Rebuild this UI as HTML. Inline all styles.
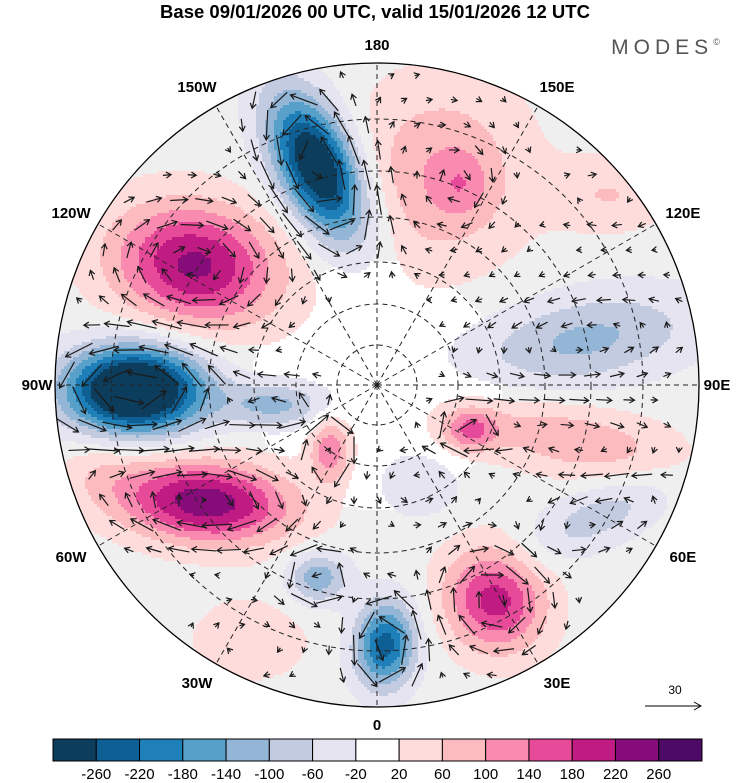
<!DOCTYPE html>
<html><head><meta charset="utf-8"><style>
body{margin:0;background:#fff;}
svg{display:block;font-family:"Liberation Sans",sans-serif;}
</style></head><body>
<svg id="chart" width="750" height="783" viewBox="0 0 750 783">
<text x="375" y="18" text-anchor="middle" font-size="18.5" font-weight="bold">Base 09/01/2026 00 UTC, valid 15/01/2026 12 UTC</text>
<text x="668" y="54" text-anchor="middle" font-size="21" fill="#555" letter-spacing="5">MODES<tspan font-size="9" dy="-9">©</tspan></text>
<defs><clipPath id="disk"><circle cx="377" cy="385" r="322"/></clipPath></defs>
<g id="field" clip-path="url(#disk)"></g>
<g id="grat" clip-path="url(#disk)"></g>
<g id="winds" clip-path="url(#disk)"></g>
<circle cx="377" cy="385" r="322" fill="none" stroke="#000" stroke-width="1.3"/>
<g id="lonlabels" font-size="15" font-weight="bold" text-anchor="middle"></g>
<g>
<text x="675" y="694" font-size="12" text-anchor="middle">30</text>
<line x1="645" y1="706" x2="700" y2="706" stroke="#000" stroke-width="1"/>
<path d="M694,702 L701,706 L694,710" fill="none" stroke="#000"/>
</g>
<g id="cbar"></g>
</svg>
<script>
// Anomaly centres (pixel map coords), spreads, rotation, peak values (gpm)
const blobX   = [318, 195, 135, 205, 385, 495, 318, 440, 585, 575, 470, 600, 330, 275, 610, 250, 420, 100, 462];
const blobY   = [168, 265, 390, 502, 645, 600, 578, 175, 340, 440, 430, 515, 450, 405, 195, 640, 485, 470, 185];
const blobSX  = [ 27,  58,  48,  60,  21,  34,  21,  60,  80,  82,  20,  58,  14,  36,  42,  42,  30,  30,  18];
const blobSY  = [ 54,  42,  30,  28,  30,  37,  18,  65,  32,  26,  15,  22,  22,  16,  26,  30,  25,  25,  22];
const blobRot = [-25,  10,   0,   5,   5, -30,   0,  10, -10,  12,   0, -25,   0,   0,   0,   0,   0,   0,   0];
const blobPeak= [-340, 230, -400, 250, -240, 200, -130, 100, -110, 90, 130, -80, 130, -110, 60, 50, -50, 40, 50];
const levels = [-260,-220,-180,-140,-100,-60,-20,20,60,100,140,180,220,260];
const levelColors = ["#0c3d5c","#0d5f94","#1f7fb8","#56a0c9","#93b5d6","#c3cbe0","#e6e4f0","#ffffff","#fddcdb","#fcbbbe","#f98bb0","#e84a9a","#c01a83","#860c7a","#4d0a66"];
const lonLabels = ["0","30E","60E","90E","120E","150E","180","150W","120W","90W","60W","30W"];

const NS="http://www.w3.org/2000/svg";
const CX=377, CY=385, R=322;
function field(x,y){
  let v=0;
  for(let i=0;i<blobX.length;i++){
    const a=blobRot[i]*Math.PI/180, dx=x-blobX[i], dy=y-blobY[i];
    const u=(dx*Math.cos(a)+dy*Math.sin(a))/blobSX[i];
    const w=(-dx*Math.sin(a)+dy*Math.cos(a))/blobSY[i];
    v+=blobPeak[i]*Math.exp(-(u*u+w*w)/2);
  }
  return v;
}
function idx(v){let k=0;for(const l of levels){if(v>=l)k++;}return k;}
function colorAt(x,y){
  const k=idx(field(x,y));
  if(k===7){const d=Math.hypot(x-CX,y-CY);return d<125?"#ffffff":"#efefef";}
  return levelColors[k];
}
const fg=document.getElementById('field');
const S=3;
for(let y=CY-R;y<CY+R;y+=S){
  let start=0,cur=null;
  for(let x=CX-R;x<=CX+R+S;x+=S){
    const c=x<=CX+R?colorAt(x+S/2,y+S/2):null;
    if(c!==cur){
      if(cur){
        const r=document.createElementNS(NS,'rect');
        r.setAttribute('x',start);r.setAttribute('y',y);
        r.setAttribute('width',x-start+0.6);r.setAttribute('height',S+0.6);
        r.setAttribute('fill',cur);
        
        
        fg.appendChild(r);
      }
      start=x;cur=c;
    }
  }
}
// graticule
const gg=document.getElementById('grat');
[40,81,123,168,214,266].forEach(r=>{
  const c=document.createElementNS(NS,'circle');
  c.setAttribute('cx',CX);c.setAttribute('cy',CY);c.setAttribute('r',r);
  c.setAttribute('fill','none');c.setAttribute('stroke','#222');c.setAttribute('stroke-dasharray','5,4');c.setAttribute('stroke-width','1');
  
  
  gg.appendChild(c);
});
for(let i=0;i<12;i++){
  const a=i*30*Math.PI/180;
  const l=document.createElementNS(NS,'line');
  l.setAttribute('x1',CX);l.setAttribute('y1',CY);
  l.setAttribute('x2',CX+R*Math.sin(a));l.setAttribute('y2',CY+R*Math.cos(a));
  l.setAttribute('stroke','#222');l.setAttribute('stroke-dasharray','5,4');
  
  
  gg.appendChild(l);
}
// longitude labels
const lg=document.getElementById('lonlabels');
for(let i=0;i<12;i++){
  const a=i*30*Math.PI/180, rr=(i%3===0)?R+18:R+22;
  const t=document.createElementNS(NS,'text');
  t.setAttribute('x',CX+rr*Math.sin(a)+(i%3===0?0:(Math.sin(a)>0?8:-8)));
  t.setAttribute('y',CY+rr*Math.cos(a)+5);
  t.textContent=lonLabels[i];
  
  
  lg.appendChild(t);
}
// winds (geostrophic-like, derived from the anomaly field)
const wg=document.getElementById('winds');
let row=0;
for(let y=CY-R+12;y<CY+R;y+=25,row++){
  for(let x=CX-R+12;x<CX+R;x+=25){
    const xx=x+(row%2)*12;
    if(Math.hypot(xx-CX,y-CY)>R-8)continue;
    const gx=(field(xx+2,y)-field(xx-2,y))/4, gy=(field(xx,y+2)-field(xx,y-2))/4;
    let u=gy,v=-gx;const m=Math.hypot(u,v);
    if(m*7<4)continue;
    const L=Math.min(30,m*7);u/=m;v/=m;
    const x1=xx-u*L/2,y1=y-v*L/2,x2=xx+u*L/2,y2=y+v*L/2;
    const p=document.createElementNS(NS,'path');
    const hx=x2-u*5,hy=y2-v*5;
    p.setAttribute('d',`M${x1},${y1}L${x2},${y2}M${hx-v*3},${hy+u*3}L${x2},${y2}L${hx+v*3},${hy-u*3}`);
    p.setAttribute('stroke','#1a1a1a');p.setAttribute('fill','none');p.setAttribute('stroke-width','1.2');
    
    
    wg.appendChild(p);
  }
}
// colorbar
const cb=document.getElementById('cbar');
const bw=(702-53)/levelColors.length;
levelColors.forEach((c,i)=>{
  const r=document.createElementNS(NS,'rect');
  r.setAttribute('x',53+i*bw);r.setAttribute('y',739);r.setAttribute('width',bw);r.setAttribute('height',22);
  r.setAttribute('fill',c);r.setAttribute('stroke','#000');r.setAttribute('stroke-width','1');
  
  
  cb.appendChild(r);
});
levels.forEach((l,i)=>{
  const t=document.createElementNS(NS,'text');
  t.setAttribute('x',53+(i+1)*bw);t.setAttribute('y',779);t.setAttribute('text-anchor','middle');t.setAttribute('font-size','15');
  t.textContent=l;
  
  
  cb.appendChild(t);
});
</script>
</body></html>
